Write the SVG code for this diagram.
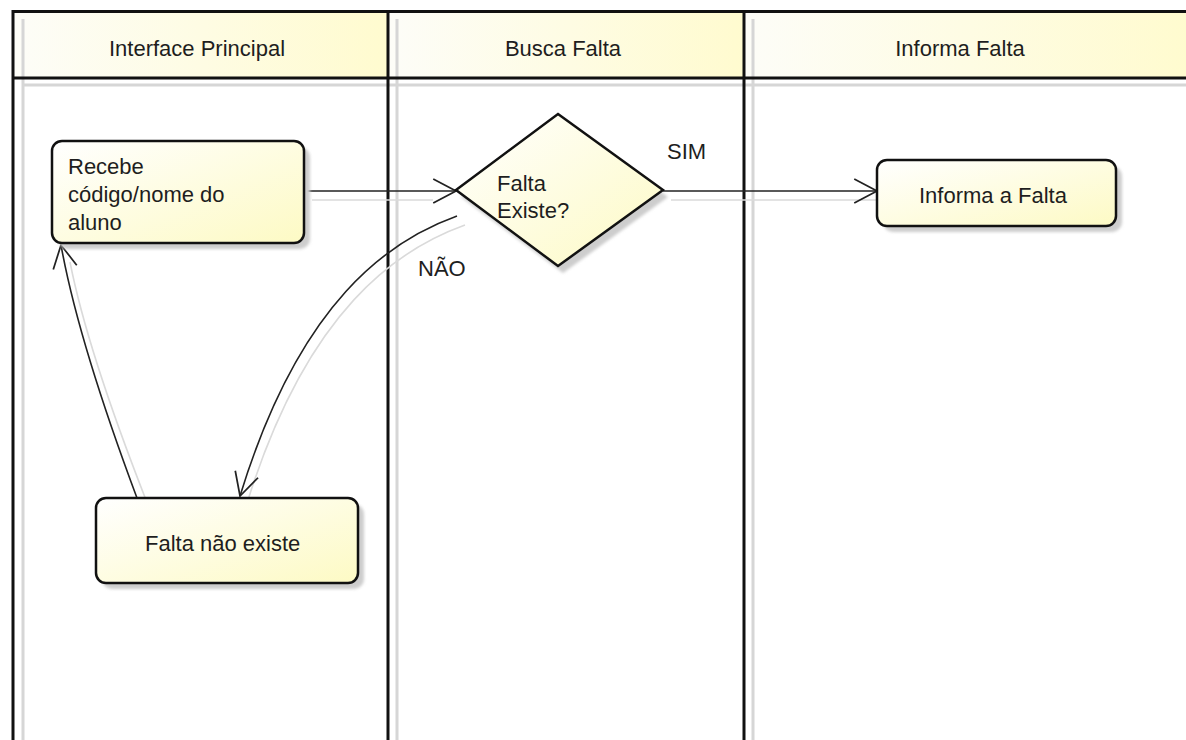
<svg xmlns="http://www.w3.org/2000/svg" width="1186" height="740" viewBox="0 0 1186 740">
  <defs>
    <style>
      .lane { stroke: #111; stroke-width: 3; fill: none; }
      .lane-shadow { stroke: #d6d6d6; stroke-width: 3; fill: none; }
      .node { stroke: #111; stroke-width: 2.5; fill: url(#nodeFill); }
      .node-shadow { fill: #cdcdcd; filter: url(#soft); }
      .edge { stroke: #222; stroke-width: 1.6; fill: none; }
      .edge-shadow { stroke: #dadada; stroke-width: 1.6; fill: none; }
      .label { font-family: "Liberation Sans", Arial, sans-serif; font-size: 22px; fill: #1e1e1e; }
      .title { font-family: "Liberation Sans", Arial, sans-serif; font-size: 22px; fill: #1e1e1e; text-anchor: middle; }
    </style>
    <linearGradient id="headFill" x1="0" y1="0" x2="1" y2="0">
      <stop offset="0" stop-color="#fdfdf8"/>
      <stop offset="1" stop-color="#fffbcf"/>
    </linearGradient>
    <linearGradient id="nodeFill" x1="0" y1="0" x2="1" y2="1">
      <stop offset="0" stop-color="#ffffff"/>
      <stop offset="1" stop-color="#fdfac4"/>
    </linearGradient>
    <filter id="soft" x="-10%" y="-10%" width="120%" height="120%">
      <feGaussianBlur stdDeviation="1.5"/>
    </filter>
    <marker id="open" markerUnits="userSpaceOnUse" markerWidth="26" markerHeight="26" viewBox="0 0 24 24" refX="22" refY="12" orient="auto">
      <path d="M1,1 L22,12 L1,23" fill="none" stroke="#222" stroke-width="1.6"/>
    </marker>
  </defs>

  <rect width="1186" height="740" fill="#ffffff"/>

  <!-- swimlane headers -->
  <g id="lane-headers">
    <rect x="14" y="13" width="373" height="64" fill="url(#headFill)"/>
    <rect x="390" y="13" width="353" height="64" fill="url(#headFill)"/>
    <rect x="746" y="13" width="440" height="64" fill="url(#headFill)"/>
  </g>

  <!-- swimlane frame shadows -->
  <g id="lane-shadows">
    <line class="lane-shadow" x1="23" y1="19" x2="23" y2="740"/>
    <line class="lane-shadow" x1="397" y1="19" x2="397" y2="740"/>
    <line class="lane-shadow" x1="753" y1="19" x2="753" y2="740"/>
    <line class="lane-shadow" x1="22" y1="85" x2="1186" y2="85" stroke-width="4"/>
  </g>

  <!-- swimlane frame -->
  <g id="lanes">
    <line class="lane" x1="12" y1="11.5" x2="1186" y2="11.5"/>
    <line class="lane" x1="13" y1="10" x2="13" y2="740"/>
    <line class="lane" x1="12" y1="78" x2="1186" y2="78"/>
    <line class="lane" x1="388" y1="10" x2="388" y2="740"/>
    <line class="lane" x1="744" y1="10" x2="744" y2="740"/>
    <text class="title" x="197" y="56">Interface Principal</text>
    <text class="title" x="563" y="56">Busca Falta</text>
    <text class="title" x="960" y="56">Informa Falta</text>
  </g>

  <!-- connectors -->
  <g id="connectors">
    <path class="edge-shadow" d="M312,200 L433,200"/>
    <path class="edge-shadow" d="M671,200 L885,200"/>
    <path class="edge-shadow" d="M465,225 C398,249 308,309 248,500"/>
    <path class="edge-shadow" d="M146,500 Q87,349 70,262"/>

    <path class="edge" d="M304,191 L456,191" marker-end="url(#open)"/>
    <path class="edge" d="M663,191 L877,191" marker-end="url(#open)"/>
    <path class="edge" d="M457,216 C390,240 300,300 240,496" marker-end="url(#open)"/>
    <path class="edge" d="M137,498 Q78,340 61,245" marker-end="url(#open)"/>

    <text class="label" x="667" y="159">SIM</text>
    <text class="label" x="418" y="276">NÃO</text>
  </g>

  <!-- nodes -->
  <g id="recebe-codigo">
    <rect class="node-shadow" x="58" y="147" width="252" height="102" rx="10"/>
    <rect class="node" x="52" y="141" width="252" height="102" rx="10"/>
    <text class="label" x="68" y="174">Recebe</text>
    <text class="label" x="68" y="202">código/nome do</text>
    <text class="label" x="68" y="230">aluno</text>
  </g>

  <g id="falta-existe">
    <polygon class="node-shadow" points="563,121 668,197 563,273 461,197"/>
    <polygon class="node" points="558,114 663,190 558,266 456,190" stroke-linejoin="miter"/>
    <text class="label" x="497" y="191">Falta</text>
    <text class="label" x="497" y="218">Existe?</text>
  </g>

  <g id="informa-a-falta">
    <rect class="node-shadow" x="883" y="166" width="239" height="66" rx="10"/>
    <rect class="node" x="877" y="160" width="239" height="66" rx="10"/>
    <text class="label" x="919" y="203">Informa a Falta</text>
  </g>

  <g id="falta-nao-existe">
    <rect class="node-shadow" x="102" y="504" width="262" height="85" rx="10"/>
    <rect class="node" x="96" y="498" width="262" height="85" rx="10"/>
    <text class="label" x="145" y="551">Falta não existe</text>
  </g>
</svg>
